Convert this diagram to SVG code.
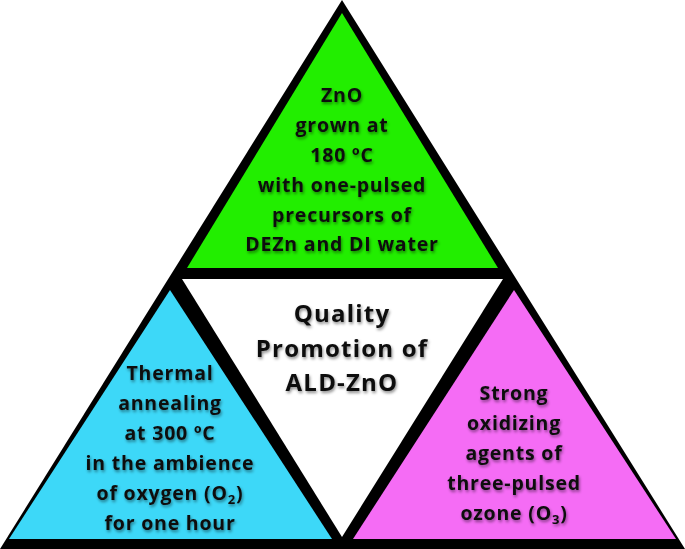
<svg xmlns="http://www.w3.org/2000/svg" width="685" height="549" viewBox="0 0 685 549">
<defs>
<filter id="sh" x="-10%" y="-30%" width="120%" height="160%"><feDropShadow dx="1" dy="2" stdDeviation="1.5" flood-color="#000" flood-opacity="0.45"/></filter>
</defs>
<style>
text{font-family:"Open Sans","Liberation Sans",sans-serif;font-weight:bold;font-size:19.5px;letter-spacing:0.8px;text-anchor:middle;fill:#111;filter:url(#sh)}
.big{font-size:24px;letter-spacing:1.2px}
</style>
<rect width="685" height="549" fill="#fff"/>
<polygon points="342,0 0,549 685,549" fill="#000"/>
<g id="center">
<polygon points="182,279 503,279 342,537" fill="#fff"/>
<text class="big" x="342" y="322">Quality</text>
<text class="big" x="342" y="357">Promotion of</text>
<text class="big" x="342" y="391">ALD-ZnO</text>
</g>
<g id="top">
<polygon points="342,13 187,268 498,268" fill="#22ee00"/>
<text x="342" y="102">ZnO</text>
<text x="342" y="132">grown at</text>
<text x="342" y="162">180 ºC</text>
<text x="342" y="192">with one-pulsed</text>
<text x="342" y="222">precursors of</text>
<text x="342" y="251">DEZn and DI water</text>
</g>
<g id="left">
<polygon points="170,290 9,539 332,539" fill="#3dd8f8"/>
<text x="170" y="380">Thermal</text>
<text x="170" y="410">annealing</text>
<text x="170" y="440">at 300 ºC</text>
<text x="170" y="470">in the ambience</text>
<text x="170" y="500">of oxygen (O<tspan font-size="13" dy="4">2</tspan><tspan dy="-4">)</tspan></text>
<text x="170" y="530">for one hour</text>
</g>
<g id="right">
<polygon points="514,290 353,539 676,539" fill="#f56cf5"/>
<text x="514" y="400">Strong</text>
<text x="514" y="430">oxidizing</text>
<text x="514" y="460">agents of</text>
<text x="514" y="490">three-pulsed</text>
<text x="514" y="520">ozone (O<tspan font-size="13" dy="4">3</tspan><tspan dy="-4">)</tspan></text>
</g>
<g id="connectors"></g>
</svg>
